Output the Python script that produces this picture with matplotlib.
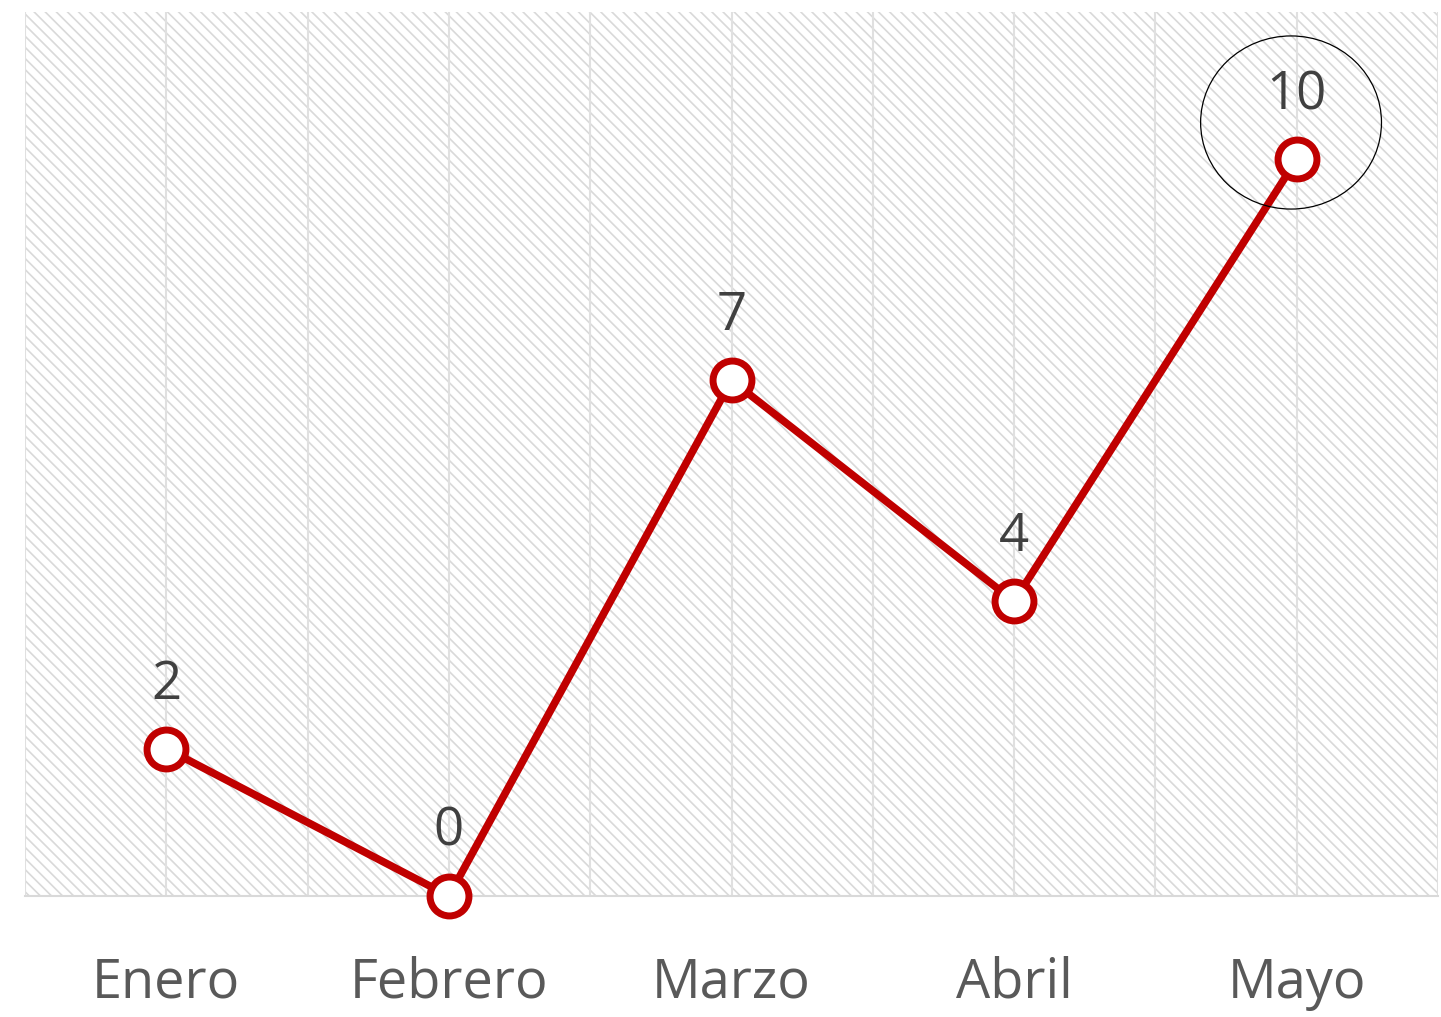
import numpy as np
import matplotlib
matplotlib.use("Agg")
import matplotlib.pyplot as plt
from matplotlib.patches import Ellipse

meses = ["Enero", "Febrero", "Marzo", "Abril", "Mayo"]
valores = [2, 0, 7, 4, 10]

plt.rcParams['font.family'] = ['Open Sans', 'DejaVu Sans']
plt.rcParams['hatch.linewidth'] = 1.2

fig = plt.figure(figsize=(14.41, 10.17), dpi=100)
ax = fig.add_axes([25/1441, 121/1017, 1413/1441, 884/1017])

x = np.arange(len(meses))

# fondo rayado
ax.patch.set_facecolor("white")
ax.patch.set_edgecolor("#d9d9d9")
ax.patch.set_hatch("\\\\\\")
ax.patch.set_linewidth(0)

ax.plot(x, valores, color="#c00000", lw=5.5, marker="o", ms=28, mfc="white",
        mec="#c00000", mew=5, zorder=5, clip_on=False)

for xi, v in zip(x, valores):
    ax.annotate(str(v), (xi, v), xytext=(0, 46), textcoords="offset points",
                ha="center", va="center", fontsize=38, color="#404040")

# circulo destacando el maximo
ax.add_patch(Ellipse((3.98, 10.5), 0.64, 2.35, fill=False, ec="black", lw=0.9, zorder=6))

ax.set_xlim(-0.5, 4.5)
ax.set_ylim(0, 12)
ax.set_xticks(x)
ax.set_xticklabels(meses, fontsize=39, color="#595959")
ax.set_xticks(np.arange(-0.5, 4.6, 1.0), minor=True)
ax.tick_params(axis="x", which="both", length=0, pad=43)
ax.set_yticks([])
ax.grid(True, which="both", axis="x", color="#e0e0e0", lw=1.5, zorder=0)

for s in ["top", "left", "right"]:
    ax.spines[s].set_visible(False)
ax.spines["bottom"].set_color("#d9d9d9")
ax.spines["bottom"].set_linewidth(1.5)

fig.savefig("out.png", dpi=100)
